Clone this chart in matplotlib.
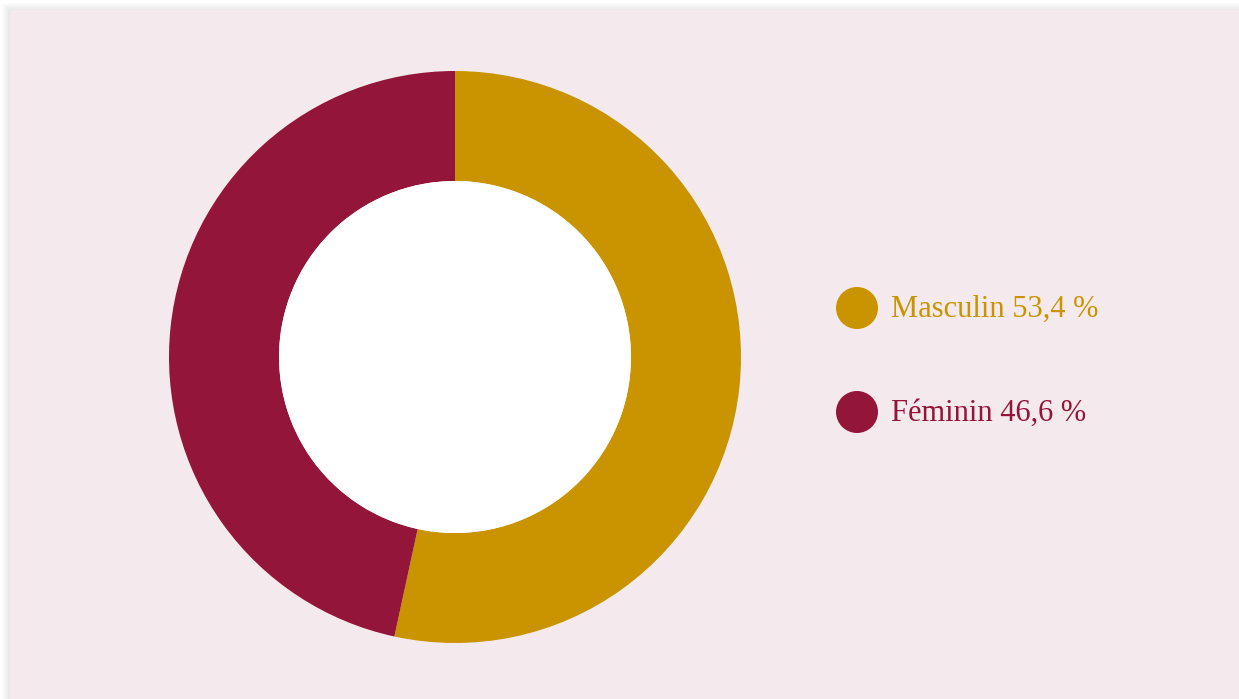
import matplotlib.pyplot as plt
from matplotlib.patches import Circle, Rectangle

# data
labels = ['Masculin', 'Féminin']
values = [53.4, 46.6]
colors = ['#C99400', '#93153A']

W, H = 1239, 699
fig = plt.figure(figsize=(W / 100, H / 100), dpi=100)
fig.patch.set_facecolor('white')

# background layer in pixel coordinates
bg = fig.add_axes([0, 0, 1, 1])
bg.set_xlim(0, W)
bg.set_ylim(H, 0)
bg.axis('off')

# soft shadow around the card
for i in range(8):
    off = 8 - i
    bg.add_patch(Rectangle((10 - off, 10 - off + 1), W + 20, H + 20,
                           facecolor='black', alpha=0.012, edgecolor='none'))
bg.add_patch(Rectangle((10, 10), W, H, facecolor='#F4E9EC', edgecolor='none'))

# legend
for i, (lab, val, col) in enumerate(zip(labels, values, colors)):
    y = 308 + i * 104
    bg.add_patch(Circle((857, y), 21, facecolor=col, edgecolor='none'))
    txt = f'{lab} {val:.1f} %'.replace('.', ',')
    bg.text(891, y + 1, txt, color=col, fontsize=22,
            family='Liberation Serif', va='center', ha='left')

# donut
cx, cy, r = 455, 357, 286
ax = fig.add_axes([(cx - r) / W, (H - cy - r) / H, 2 * r / W, 2 * r / H])
ax.pie(values, colors=colors, startangle=90, counterclock=False,
       wedgeprops=dict(width=110 / 286, edgecolor='none'), radius=1)
ax.add_patch(Circle((0, 0), 176 / 286, facecolor='white', edgecolor='none'))
ax.set_xlim(-1, 1)
ax.set_ylim(-1, 1)
ax.set_aspect('equal')
ax.axis('off')

fig.savefig('out.png', dpi=100, facecolor=fig.get_facecolor())
